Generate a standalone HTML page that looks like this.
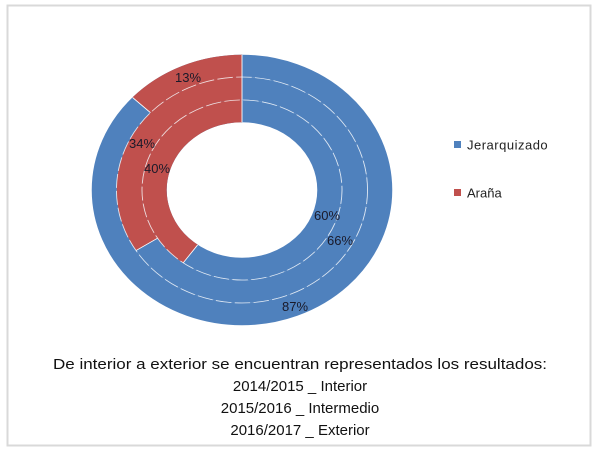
<!DOCTYPE html>
<html><head><meta charset="utf-8"><style>
body{margin:0;background:#fff;width:600px;height:450px;overflow:hidden;font-family:"Liberation Sans",sans-serif}
</style></head><body>
<svg width="600" height="450" xmlns="http://www.w3.org/2000/svg">
<rect x="7.5" y="5.5" width="583" height="440" fill="#fff" stroke="#d9d9d9" stroke-width="2"/>
<g transform="translate(242,190) scale(1.111,1)">
<circle r="79" fill="none" stroke="#4F81BD" stroke-width="22.5"/>
<circle r="101.5" fill="none" stroke="#4F81BD" stroke-width="22.5"/>
<circle r="124" fill="none" stroke="#4F81BD" stroke-width="22.5"/>
<path d="M-46.43,63.91 A79,79 0 0 1 0,-79" fill="none" stroke="#C0504D" stroke-width="22.5"/>
<path d="M-85.70,54.38 A101.5,101.5 0 0 1 0,-101.5" fill="none" stroke="#C0504D" stroke-width="22.5"/>
<path d="M-90.40,-84.88 A124,124 0 0 1 0,-124" fill="none" stroke="#C0504D" stroke-width="22.5"/>
<circle r="90" fill="none" stroke="#fff" stroke-width="0.8" stroke-dasharray="14 3" opacity="0.8"/>
<circle r="113" fill="none" stroke="#fff" stroke-width="0.8" stroke-dasharray="14 3" opacity="0.8"/>
<line x1="0" y1="-68" x2="0" y2="-135" stroke="#fff" stroke-width="0.8"/>
<line x1="-39.97" y1="55.01" x2="-52.90" y2="72.81" stroke="#fff" stroke-width="0.8"/>
<line x1="-75.99" y1="48.22" x2="-95.41" y2="60.55" stroke="#fff" stroke-width="0.8"/>
<line x1="-82.38" y1="-77.35" x2="-98.42" y2="-92.41" stroke="#fff" stroke-width="0.8"/>
</g>
<g font-size="13" fill="#1a1a2a" text-anchor="middle">
<text x="188" y="82">13%</text>
<text x="142" y="148">34%</text>
<text x="157" y="173">40%</text>
<text x="327" y="220">60%</text>
<text x="340" y="245">66%</text>
<text x="295" y="311">87%</text>
</g>
<rect x="454" y="141" width="7" height="7" fill="#4F81BD"/>
<text x="467" y="149.5" font-size="13" fill="#222" letter-spacing="0.5">Jerarquizado</text>
<rect x="454" y="189" width="7" height="7" fill="#C0504D"/>
<text x="467" y="197.5" font-size="13" fill="#222">Araña</text>
<g font-size="15" fill="#111" text-anchor="middle">
<text x="300" y="369" textLength="494" lengthAdjust="spacingAndGlyphs">De interior a exterior se encuentran representados los resultados:</text>
<text x="300" y="391">2014/2015  _ Interior</text>
<text x="300" y="413">2015/2016  _ Intermedio</text>
<text x="300" y="435">2016/2017  _ Exterior</text>
</g>
</svg>
</body></html>
